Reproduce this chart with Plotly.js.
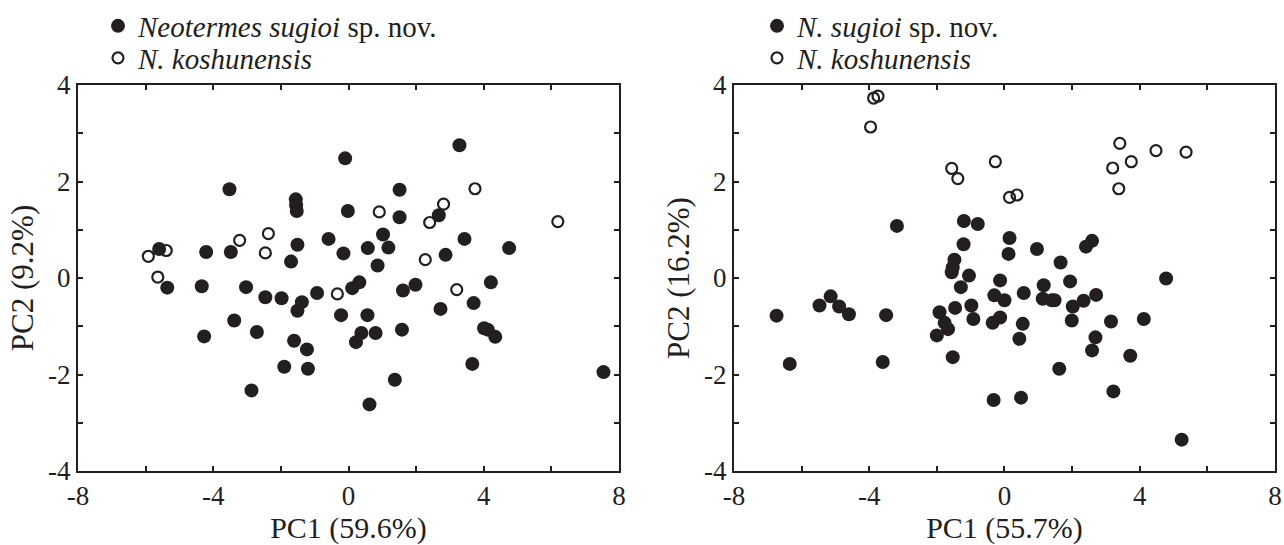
<!DOCTYPE html>
<html>
<head>
<meta charset="utf-8">
<script src="https://cdn.plot.ly/plotly-3.0.1.min.js"></script>
<style>html,body{margin:0;padding:0;background:#fff;}#chart{width:1284px;height:545px;}</style>
</head>
<body>
<div id="chart"></div>
<script>
// ---- Left panel: PC1 (59.6%) vs PC2 (9.2%) ----
const leftSugioiX = [-0.10, -3.52, -1.56, -1.55, -1.53, -0.02, -5.60, -4.21, -3.48, -1.51, -1.70, -0.59, -0.15,
  -5.36, -4.34, -3.03, -2.46, -1.98, -1.38, -1.51, -0.93, 0.11, 0.32, -0.22, -3.38, -4.27, -2.71, -1.61, -1.23,
  -1.90, -1.20, -2.87, 3.28, 1.51, 1.51, 2.67, 1.02, 0.57, 1.18, 0.86, 2.87, 3.43, 4.75, 1.61, 1.98, 4.21,
  2.72, 3.70, 0.56, 0.38, 0.22, 0.80, 1.58, 4.01, 4.12, 4.34, 3.66, 1.37, 0.62, 7.54];
const leftSugioiY = [2.48, 1.84, 1.63, 1.51, 1.39, 1.39, 0.60, 0.54, 0.54, 0.69, 0.34, 0.81, 0.51,
  -0.20, -0.17, -0.19, -0.40, -0.42, -0.50, -0.68, -0.31, -0.21, -0.09, -0.77, -0.88, -1.21, -1.12, -1.30, -1.48,
  -1.84, -1.88, -2.33, 2.75, 1.83, 1.26, 1.30, 0.90, 0.62, 0.63, 0.26, 0.48, 0.81, 0.62, -0.26, -0.14, -0.09,
  -0.64, -0.52, -0.77, -1.14, -1.33, -1.14, -1.07, -1.04, -1.07, -1.22, -1.78, -2.11, -2.62, -1.95];
const leftKoshunX = [-5.92, -5.39, -5.64, -3.22, -2.37, -2.46, -0.33, 0.91, 2.40, 2.81, 3.74, 6.19, 2.27, 3.20];
const leftKoshunY = [0.45, 0.57, 0.02, 0.78, 0.92, 0.52, -0.33, 1.37, 1.15, 1.53, 1.85, 1.17, 0.38, -0.24];

// ---- Right panel: PC1 (55.7%) vs PC2 (16.2%) ----
const rightSugioiX = [-3.18, -1.20, -0.79, -1.21, -1.48, -1.53, -1.56, -1.05, -1.29, -1.46, -0.98, -0.92, -1.92,
  -1.77, -1.67, -2.00, -1.53, -0.32, -6.74, -6.35, -5.47, -5.14, -4.89, -4.60, -3.50, -3.60,
  0.15, 0.12, 0.96, 2.41, 2.59, 1.66, -0.13, -0.30, 0.00, 0.57, 1.16, 1.13, 1.40, 1.48, 1.94, 2.02, 2.34, 2.71,
  -0.35, -0.13, 0.54, 1.99, 3.15, 4.12, 4.78, 0.44, 2.69, 2.59, 3.72, 1.62, 0.49, 3.22, 5.24];
const rightSugioiY = [1.08, 1.18, 1.12, 0.70, 0.38, 0.22, 0.12, 0.05, -0.19, -0.62, -0.57, -0.85, -0.71,
  -0.93, -1.06, -1.19, -1.64, -2.53, -0.78, -1.78, -0.57, -0.38, -0.59, -0.75, -0.77, -1.74,
  0.83, 0.50, 0.60, 0.65, 0.77, 0.32, -0.05, -0.36, -0.46, -0.31, -0.15, -0.43, -0.46, -0.46, -0.07, -0.59, -0.47, -0.35,
  -0.93, -0.82, -0.95, -0.88, -0.90, -0.85, -0.01, -1.26, -1.23, -1.50, -1.61, -1.88, -2.48, -2.35, -3.35];
const rightKoshunX = [-3.87, -3.74, -3.96, -1.56, -1.38, -0.27, 0.15, 0.37, 3.41, 3.75, 3.20, 3.38, 4.48, 5.37];
const rightKoshunY = [3.73, 3.77, 3.13, 2.27, 2.06, 2.41, 1.67, 1.72, 2.79, 2.41, 2.28, 1.85, 2.64, 2.61];

// ---- Labels ----
const xTickVals = [-8, -6, -4, -2, 0, 2, 4, 6, 8];
const xTickText = ['-8', '', '-4', '', '0', '', '4', '', '8'];
const yTickVals = [-4, -3, -2, -1, 0, 1, 2, 3, 4];
const yTickText = ['-4', '', '-2', '', '0', '', '2', '', '4'];
const leftXTitle = 'PC1 (59.6%)', leftYTitle = 'PC2 (9.2%)';
const rightXTitle = 'PC1 (55.7%)', rightYTitle = 'PC2 (16.2%)';
const leftNames = ['<i>Neotermes sugioi</i> sp. nov.', '<i>N. koshunensis</i>'];
const rightNames = ['<i>N. sugioi</i> sp. nov.', '<i>N. koshunensis</i>'];

const INK = '#231f20';
const FONT = 'Liberation Serif, Times New Roman, serif';

function filled(x, y, name, xa, ya, lg) {
  return {x, y, name, xaxis: xa, yaxis: ya, legend: lg, type: 'scatter', mode: 'markers',
    marker: {symbol: 'circle', size: 14, color: INK, line: {width: 0}}, hoverinfo: 'x+y', cliponaxis: false};
}
function open(x, y, name, xa, ya, lg) {
  return {x, y, name, xaxis: xa, yaxis: ya, legend: lg, type: 'scatter', mode: 'markers',
    marker: {symbol: 'circle-open', size: 11, color: INK, line: {width: 2.2, color: INK}}, hoverinfo: 'x+y', cliponaxis: false};
}

const data = [
  filled(leftSugioiX, leftSugioiY, leftNames[0], 'x', 'y', 'legend'),
  open(leftKoshunX, leftKoshunY, leftNames[1], 'x', 'y', 'legend2'),
  filled(rightSugioiX, rightSugioiY, rightNames[0], 'x2', 'y2', 'legend3'),
  open(rightKoshunX, rightKoshunY, rightNames[1], 'x2', 'y2', 'legend4')
];

function xAxis(domain, title, anchor) {
  return {domain, anchor, range: [-8, 8], tickmode: 'array', tickvals: xTickVals, ticktext: xTickText,
    ticks: 'inside', ticklen: 5, tickwidth: 2, tickcolor: INK, showline: true, linewidth: 2, linecolor: INK,
    mirror: 'ticks', showgrid: false, zeroline: false, automargin: false, fixedrange: true,
    tickfont: {family: FONT, size: 27, color: INK},
    title: {text: title, font: {family: FONT, size: 30, color: INK}, standoff: 5}};
}
function yAxis(title, anchor) {
  return {domain: [0, 1], anchor, range: [-4, 4], tickmode: 'array', tickvals: yTickVals, ticktext: yTickText,
    ticks: 'inside', ticklen: 5, tickwidth: 2, tickcolor: INK, showline: true, linewidth: 2, linecolor: INK,
    mirror: 'ticks', showgrid: false, zeroline: false, automargin: false, fixedrange: true,
    tickfont: {family: FONT, size: 27, color: INK},
    title: {text: title, font: {family: FONT, size: 31, color: INK}, standoff: 5}};
}

// plot area: x 78..1275 px, y 85..471 px
const PW = 1197, PH = 386;
const px2x = px => (px - 78) / PW;
const py2y = py => 1 + (85 - py) / PH;
const legendBase = {xref: 'paper', yref: 'paper', yanchor: 'middle', xanchor: 'left',
  bgcolor: 'rgba(0,0,0,0)', borderwidth: 0, font: {family: FONT, size: 29, color: INK},
  itemsizing: 'trace', tracegroupgap: 0, traceorder: 'normal'};

const layout = {
  width: 1284, height: 545,
  margin: {l: 78, r: 9, t: 85, b: 74, pad: 0, autoexpand: false},
  paper_bgcolor: '#fff', plot_bgcolor: '#fff',
  showlegend: true,
  xaxis: xAxis([0, 0.452], leftXTitle, 'y'),
  yaxis: yAxis(leftYTitle, 'x'),
  xaxis2: xAxis([0.548, 1], rightXTitle, 'y2'),
  yaxis2: yAxis(rightYTitle, 'x2'),
  legend: Object.assign({}, legendBase, {x: px2x(98), y: py2y(26)}),
  legend2: Object.assign({}, legendBase, {x: px2x(98), y: py2y(58)}),
  legend3: Object.assign({}, legendBase, {x: px2x(757), y: py2y(26)}),
  legend4: Object.assign({}, legendBase, {x: px2x(757), y: py2y(58)})
};

Plotly.newPlot('chart', data, layout, {displayModeBar: false});
</script>
</body>
</html>
